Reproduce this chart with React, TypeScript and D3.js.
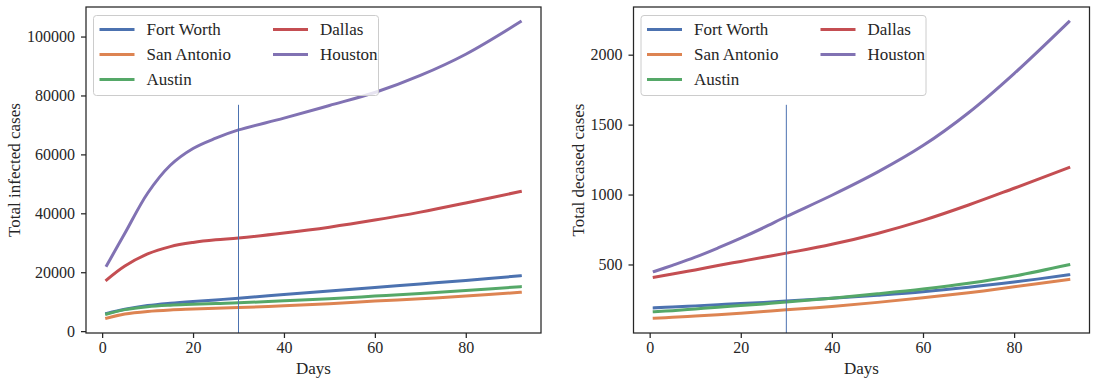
import React, { useRef, useEffect } from "react";
import * as d3 from "d3";

// days the curves were read at
const days = [1, 5, 10, 15, 20, 25, 30, 40, 50, 60, 70, 80, 92];
const cities = ["Fort Worth", "San Antonio", "Austin", "Dallas", "Houston"];
const colors = ["#4C72B0", "#DD8452", "#55A868", "#C44E52", "#8172B3"];

// total infected
const infFortWorth = [6000, 7400, 8700, 9500, 10100, 10600, 11200, 12400, 13600, 14800, 16000, 17200, 18800];
const infSanAntonio = [4400, 5800, 6700, 7200, 7500, 7800, 8000, 8600, 9300, 10200, 11000, 11900, 13200];
const infAustin = [5800, 7300, 8300, 8800, 9100, 9400, 9600, 10300, 11000, 11900, 12800, 13800, 15100];
const infDallas = [17400, 22100, 26200, 28700, 30100, 31000, 31600, 33300, 35300, 37700, 40400, 43500, 47400];
const infHouston = [22300, 33200, 46800, 56300, 62000, 65500, 68300, 72300, 76600, 81000, 86800, 94000, 105000];

// total deceased
const decFortWorth = [190, 196, 204, 212, 221, 229, 238, 258, 280, 305, 337, 374, 426];
const decSanAntonio = [116, 122, 131, 140, 151, 163, 176, 200, 229, 262, 298, 340, 393];
const decAustin = [162, 170, 182, 195, 206, 218, 231, 259, 290, 324, 365, 417, 498];
const decDallas = [409, 432, 461, 493, 522, 551, 581, 644, 722, 815, 925, 1045, 1192];
const decHouston = [450, 494, 552, 618, 688, 763, 843, 995, 1160, 1350, 1585, 1865, 2235];

const xTicks = [0, 20, 40, 60, 80];
const infTicks = [0, 20000, 40000, 60000, 80000, 100000];
const decTicks = [500, 1000, 1500, 2000];
const markerDay = 30;

const FONT = "'Liberation Serif', 'DejaVu Serif', serif";
const INK = "#262626";

const panels = [
  { left: 86, right: 541, label: "Total infected cases", labelX: 20, series: [infFortWorth, infSanAntonio, infAustin, infDallas, infHouston], ticks: infTicks },
  { left: 633.5, right: 1089.5, label: "Total decased cases", labelX: 584, series: [decFortWorth, decSanAntonio, decAustin, decDallas, decHouston], ticks: decTicks },
];
const top = 7;
const bottom = 333;

const App = () => {
  const svgRef = useRef();

  useEffect(() => {
    const svg = d3.select(svgRef.current);
    svg.selectAll("*").remove();

    panels.forEach((p) => {
      const g = svg.append("g");
      const xExt = d3.extent(days);
      const xPad = (xExt[1] - xExt[0]) * 0.05;
      const all = p.series.flat();
      const yExt = d3.extent(all);
      const yPad = (yExt[1] - yExt[0]) * 0.05;

      const xScale = d3.scaleLinear().domain([xExt[0] - xPad, xExt[1] + xPad]).range([p.left, p.right]);
      const yScale = d3.scaleLinear().domain([yExt[0] - yPad, yExt[1] + yPad]).range([bottom, top]);

      // lines
      const lineGen = d3.line().x((d) => xScale(d[0])).y((d) => yScale(d[1])).curve(d3.curveCatmullRom.alpha(0.5));
      p.series.forEach((vals, i) => {
        g.append("path")
          .datum(days.map((d, j) => [d, vals[j]]))
          .attr("fill", "none")
          .attr("stroke", colors[i])
          .attr("stroke-width", 3)
          .attr("stroke-linecap", "square")
          .attr("d", lineGen);
      });

      // vertical marker, 70% of axes height
      g.append("line")
        .attr("x1", xScale(markerDay)).attr("x2", xScale(markerDay))
        .attr("y1", bottom).attr("y2", bottom - 0.7 * (bottom - top))
        .attr("stroke", colors[0]).attr("stroke-width", 1);

      // axes
      const xAxis = d3.axisBottom(xScale).tickValues(xTicks).tickSize(5).tickPadding(4).tickFormat(d3.format("d"));
      const yAxis = d3.axisLeft(yScale).tickValues(p.ticks).tickSize(5).tickPadding(6).tickFormat(d3.format("d"));
      const gx = g.append("g").attr("transform", `translate(0,${bottom})`).call(xAxis);
      const gy = g.append("g").attr("transform", `translate(${p.left},0)`).call(yAxis);
      [gx, gy].forEach((a) => {
        a.select(".domain").remove();
        a.selectAll("line").attr("stroke", INK).attr("stroke-width", 1.25);
        a.selectAll("text").attr("fill", INK).style("font-family", FONT).style("font-size", "16px");
      });

      // frame
      g.append("rect")
        .attr("x", p.left).attr("y", top)
        .attr("width", p.right - p.left).attr("height", bottom - top)
        .attr("fill", "none").attr("stroke", INK).attr("stroke-width", 1.25);

      // axis labels
      g.append("text")
        .attr("x", (p.left + p.right) / 2).attr("y", 374)
        .attr("text-anchor", "middle").attr("fill", INK)
        .style("font-family", FONT).style("font-size", "17px")
        .text("Days");
      g.append("text")
        .attr("transform", `translate(${p.labelX},${(top + bottom) / 2}) rotate(-90)`)
        .attr("text-anchor", "middle").attr("fill", INK)
        .style("font-family", FONT).style("font-size", "17px")
        .text(p.label);

      // legend, two columns filled column-wise
      const lx = p.left + 7.5;
      const ly = top + 8.5;
      const leg = g.append("g").attr("transform", `translate(${lx},${ly})`);
      leg.append("rect")
        .attr("width", 285).attr("height", 80).attr("rx", 3)
        .attr("fill", "white").attr("fill-opacity", 0.8)
        .attr("stroke", "#cccccc").attr("stroke-width", 1);
      cities.forEach((c, i) => {
        const col = Math.floor(i / 3);
        const row = i % 3;
        const cx = 6 + col * 173.5;
        const cy = 14 + row * 25;
        leg.append("line")
          .attr("x1", cx).attr("x2", cx + 35)
          .attr("y1", cy).attr("y2", cy)
          .attr("stroke", colors[i]).attr("stroke-width", 3);
        leg.append("text")
          .attr("x", cx + 47).attr("y", cy + 5.5)
          .attr("fill", INK)
          .style("font-family", FONT).style("font-size", "17px")
          .text(c);
      });
    });
  }, []);

  return (
    <svg
      ref={svgRef}
      width={1096}
      height={384}
      style={{ position: "absolute", left: 0, top: 0, background: "white" }}
    />
  );
};

export default App;
